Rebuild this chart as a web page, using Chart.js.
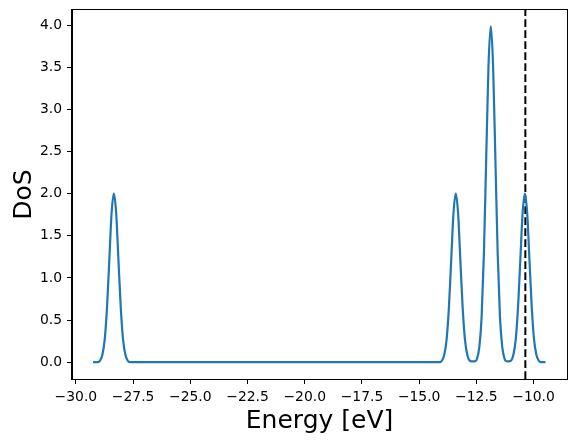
<!DOCTYPE html>
<html>
<head>
<meta charset="utf-8">
<script src="https://cdn.jsdelivr.net/npm/chart.js@4"></script>
<style>
  html, body { margin: 0; padding: 0; background: #ffffff; }
  #wrap { width: 577px; height: 442px; }
</style>
</head>
<body>
<div id="wrap"><canvas id="c" width="577" height="442"></canvas></div>
<script>
// Energy grid (eV) and density of states
const energies = [
  -29.25, -29.14, -29.04, -28.94, -28.84, -28.74, -28.64, -28.54, -28.44,
  -28.34,
  -28.24, -28.14, -28.04, -27.94, -27.84, -27.74, -27.64, -27.54,
  -14.20, -14.10, -14.00, -13.90, -13.80, -13.70, -13.60, -13.50,
  -13.40,
  -13.30, -13.20, -13.10, -13.00, -12.90, -12.80, -12.70, -12.64,
  -12.57, -12.47, -12.37, -12.27, -12.17, -12.07, -11.97,
  -11.87,
  -11.77, -11.67, -11.57, -11.47, -11.37, -11.27, -11.17, -11.12,
  -11.08, -10.98, -10.88, -10.78, -10.68, -10.58, -10.48,
  -10.38,
  -10.28, -10.18, -10.08, -9.98, -9.88, -9.78, -9.68, -9.48
];
const dos = [
  0.00, 0.00, 0.00, 0.02, 0.09, 0.27, 0.65, 1.21, 1.77,
  2.00,
  1.77, 1.21, 0.65, 0.27, 0.09, 0.02, 0.00, 0.00,
  0.00, 0.00, 0.02, 0.09, 0.27, 0.65, 1.21, 1.77,
  2.00,
  1.77, 1.21, 0.65, 0.27, 0.09, 0.02, 0.01, 0.01,
  0.01, 0.04, 0.18, 0.54, 1.30, 2.42, 3.52,
  3.99,
  3.52, 2.42, 1.30, 0.54, 0.18, 0.04, 0.01, 0.01,
  0.01, 0.02, 0.09, 0.27, 0.65, 1.21, 1.77,
  2.00,
  1.77, 1.21, 0.65, 0.27, 0.09, 0.02, 0.00, 0.00
];
const fermiLevel = -10.36;

const xTicks = [-30.0, -27.5, -25.0, -22.5, -20.0, -17.5, -15.0, -12.5, -10.0];
const yTicks = [0.0, 0.5, 1.0, 1.5, 2.0, 2.5, 3.0, 3.5, 4.0];
const xLimits = [-30.17, -8.54];
const yLimits = [-0.20, 4.18];

const xLabel = 'Energy [eV]';
const yLabel = 'DoS';

const fmt = v => {
  const s = Math.abs(v).toFixed(1);
  return (v < 0 ? '\u2212' : '') + s;
};

const dosPoints = energies.map((e, i) => ({ x: e, y: dos[i] }));
const fermiPoints = [{ x: fermiLevel, y: yLimits[0] }, { x: fermiLevel, y: yLimits[1] }];

const frame = {
  id: 'frame',
  afterDatasetsDraw(chart) {
    const { ctx, chartArea: a } = chart;
    ctx.save();
    ctx.strokeStyle = '#000';
    ctx.lineWidth = 1;
    ctx.strokeRect(Math.round(a.left) - 0.5, Math.round(a.top) - 0.5,
                   Math.round(a.right - a.left) + 1, Math.round(a.bottom - a.top) + 1);
    ctx.restore();
  }
};

const font = { family: '"DejaVu Sans", sans-serif', size: 13.9 };
const titleFont = { family: '"DejaVu Sans", sans-serif', size: 25 };

new Chart(document.getElementById('c'), {
  type: 'line',
  data: {
    datasets: [
      {
        data: dosPoints,
        borderColor: '#1f77b4',
        borderWidth: 2.2,
        pointRadius: 0,
        fill: false,
        cubicInterpolationMode: 'monotone'
      },
      {
        data: fermiPoints,
        borderColor: '#000000',
        borderWidth: 2,
        borderDash: [7.7, 3.3],
        pointRadius: 0,
        fill: false
      }
    ]
  },
  options: {
    responsive: false,
    devicePixelRatio: 1,
    animation: false,
    layout: { padding: { top: 10, right: 10, left: 0, bottom: 0 } },
    plugins: { legend: { display: false }, tooltip: { enabled: false } },
    scales: {
      x: {
        type: 'linear',
        min: xLimits[0],
        max: xLimits[1],
        afterBuildTicks: ax => { ax.ticks = xTicks.map(v => ({ value: v })); },
        afterFit: ax => { ax.height = 63; ax.paddingLeft = 0; ax.paddingRight = 0; },
        ticks: { font, color: '#000', padding: 5, maxRotation: 0, autoSkip: false, callback: v => fmt(v) },
        grid: { drawOnChartArea: false, drawTicks: true, tickLength: 5, tickColor: '#000', tickWidth: 1 },
        border: { display: true, color: '#000', width: 1 },
        title: { display: true, text: xLabel, font: titleFont, color: '#000', padding: { top: 0, bottom: 6 } }
      },
      y: {
        type: 'linear',
        min: yLimits[0],
        max: yLimits[1],
        afterBuildTicks: ax => { ax.ticks = yTicks.map(v => ({ value: v })); },
        afterFit: ax => { ax.width = 72; ax.paddingTop = 0; ax.paddingBottom = 0; },
        ticks: { font, color: '#000', padding: 5, autoSkip: false, callback: v => fmt(v) },
        grid: { drawOnChartArea: false, drawTicks: true, tickLength: 5, tickColor: '#000', tickWidth: 1 },
        border: { display: true, color: '#000', width: 1 },
        title: { display: true, text: yLabel, font: titleFont, color: '#000', padding: { top: 9, bottom: 0 } }
      }
    }
  },
  plugins: [frame]
});
</script>
</body>
</html>
